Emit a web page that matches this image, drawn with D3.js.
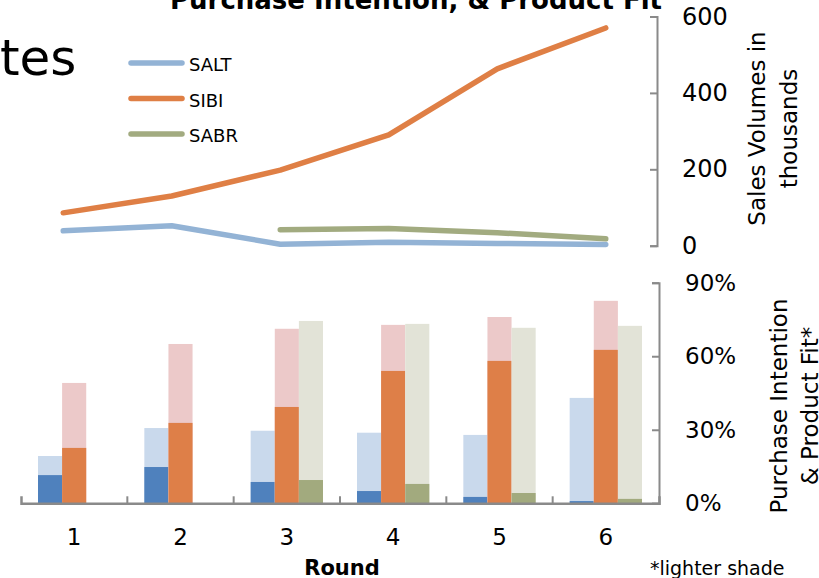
<!DOCTYPE html>
<html>
<head>
<meta charset="utf-8">
<script src="https://cdn.jsdelivr.net/npm/d3@7/dist/d3.min.js"></script>
<style>
  html, body { margin: 0; padding: 0; background: #fff; }
  svg { display: block; }
  text { font-family: "DejaVu Sans", "Open Sans", sans-serif; fill: #000; }
</style>
</head>
<body>
<svg id="chart" width="819" height="578"></svg>
<script>
// Rounds of the simulation
const rounds = ["1", "2", "3", "4", "5", "6"];

// Sales volumes (thousands) per brand
const saltSales = [39, 52, 4, 9, 6, 3];
const sibiSales = [86, 130, 198, 290, 463, 570];
const sabrSales = [null, null, 42, 45, 34, 18];

// Purchase intention (dark) and product fit (light), in percent
const saltIntent = [11.5, 14.8, 8.7, 5.0, 2.6, 0.9];
const saltFit    = [19.3, 30.7, 29.6, 28.8, 27.9, 43.0];
const sibiIntent = [22.6, 32.8, 39.3, 54.0, 58.1, 62.6];
const sibiFit    = [49.1, 65.0, 71.2, 72.8, 76.0, 82.6];
const sabrIntent = [null, null, 9.5, 7.9, 4.2, 1.8];
const sabrFit    = [null, null, 74.4, 73.2, 71.6, 72.4];

const salesTicks = [0, 200, 400, 600];
const pctTicks = [0, 30, 60, 90];

const brands = ["SALT", "SIBI", "SABR"];
const lineColor = { SALT: "#93b3d5", SIBI: "#df7f45", SABR: "#a2ab80" };
const darkColor = { SALT: "#4f81bd", SIBI: "#de7f48", SABR: "#a2aa7e" };
const lightColor = { SALT: "#c9d9ec", SIBI: "#ecc9c9", SABR: "#e2e3d7" };
const axisGray = "#8a8a8a";

const salesByBrand = { SALT: saltSales, SIBI: sibiSales, SABR: sabrSales };
const intentByBrand = { SALT: saltIntent, SIBI: sibiIntent, SABR: sabrIntent };
const fitByBrand = { SALT: saltFit, SIBI: sibiFit, SABR: sabrFit };

const svg = d3.select("#chart");

// Slide heading fragment and chart title (partly off the top edge)
svg.append("text").attr("x", 0).attr("y", 75)
  .style("font-size", "50px").text("tes");
svg.append("text").attr("x", 170).attr("y", 9)
  .style("font-size", "26px").style("font-weight", "bold")
  .text("Purchase Intention, & Product Fit");

// ---------- Top panel: sales volume lines ----------
const xTop = d3.scalePoint().domain(rounds).range([9, 660]).padding(0.5);
const yTop = d3.scaleLinear().domain([0, 600]).range([245.7, 16.5]);

const line = d3.line()
  .defined(d => d.v != null)
  .x(d => xTop(d.r))
  .y(d => yTop(d.v));

brands.forEach(b => {
  const pts = rounds.map((r, i) => ({ r, v: salesByBrand[b][i] }));
  svg.append("path")
    .datum(pts)
    .attr("d", line)
    .attr("fill", "none")
    .attr("stroke", lineColor[b])
    .attr("stroke-width", 5.5)
    .attr("stroke-linecap", "round")
    .attr("stroke-linejoin", "round");
});

const topAxis = svg.append("g")
  .attr("transform", "translate(657,0)")
  .call(d3.axisRight(yTop).tickValues(salesTicks)
    .tickSizeInner(-7).tickSizeOuter(-7).tickPadding(25));
topAxis.selectAll("path, line").attr("stroke", axisGray).attr("stroke-width", 2);
topAxis.selectAll("text").style("font-size", "24px").style("font-family", null);

// Legend
const legend = svg.append("g");
brands.forEach((b, i) => {
  const y = 63 + i * 35.5;
  legend.append("line").attr("x1", 131).attr("x2", 182).attr("y1", y).attr("y2", y)
    .attr("stroke", lineColor[b]).attr("stroke-width", 5.5).attr("stroke-linecap", "round");
  legend.append("text").attr("x", 189).attr("y", y + 8)
    .style("font-size", "18px").text(b);
});

// Top axis title
const t1 = svg.append("text")
  .attr("transform", "translate(765,128.5) rotate(-90)")
  .attr("text-anchor", "middle").style("font-size", "23px");
t1.append("tspan").attr("x", 0).attr("dy", 0).text("Sales Volumes in");
t1.append("tspan").attr("x", 0).attr("dy", 32).text("thousands");

// ---------- Bottom panel: intention / fit bars ----------
const xBot = d3.scaleBand().domain(rounds).range([21, 659]);
const xSub = d3.scaleBand().domain(brands).range([17, xBot.bandwidth() - 17]);
const yBot = d3.scaleLinear().domain([0, 90]).range([503.3, 282.7]);

const groups = svg.append("g").selectAll("g")
  .data(rounds).join("g")
  .attr("transform", r => `translate(${xBot(r)},0)`);

brands.forEach(b => {
  // lighter shade: product fit
  groups.filter((r, i) => fitByBrand[b][i] != null)
    .append("rect")
    .attr("x", xSub(b)).attr("width", xSub.bandwidth())
    .attr("y", r => yBot(fitByBrand[b][rounds.indexOf(r)]))
    .attr("height", r => yBot(0) - yBot(fitByBrand[b][rounds.indexOf(r)]))
    .attr("fill", lightColor[b]);
  // darker shade: purchase intention
  groups.filter((r, i) => intentByBrand[b][i] != null)
    .append("rect")
    .attr("x", xSub(b)).attr("width", xSub.bandwidth())
    .attr("y", r => yBot(intentByBrand[b][rounds.indexOf(r)]))
    .attr("height", r => yBot(0) - yBot(intentByBrand[b][rounds.indexOf(r)]))
    .attr("fill", darkColor[b]);
});

const botAxis = svg.append("g")
  .attr("transform", "translate(659,0)")
  .call(d3.axisRight(yBot).tickValues(pctTicks)
    .tickFormat(d => d + "%")
    .tickSizeInner(-7).tickSizeOuter(-7).tickPadding(26));
botAxis.selectAll("path, line").attr("stroke", axisGray).attr("stroke-width", 2);
botAxis.selectAll("text").style("font-size", "23px").style("font-family", null);

const xAxis = svg.append("g")
  .attr("transform", `translate(0,${yBot(0)})`)
  .call(d3.axisBottom(xBot).tickSizeInner(0).tickSizeOuter(-7).tickPadding(25));
xAxis.select("path").attr("stroke", axisGray).attr("stroke-width", 2.5);
xAxis.selectAll("text").style("font-size", "23px").style("font-family", null);
// category boundary ticks
xAxis.selectAll("line.sep")
  .data(rounds.slice(1)).join("line")
  .attr("class", "sep")
  .attr("x1", r => xBot(r)).attr("x2", r => xBot(r))
  .attr("y1", 0).attr("y2", -7)
  .attr("stroke", axisGray).attr("stroke-width", 2);

// Bottom axis title
const t2 = svg.append("text")
  .attr("transform", "translate(787,406) rotate(-90)")
  .attr("text-anchor", "middle").style("font-size", "23px");
t2.append("tspan").attr("x", 0).attr("dy", 0).text("Purchase Intention");
t2.append("tspan").attr("x", 0).attr("dy", 31).text("& Product Fit*");

svg.append("text").attr("x", 342).attr("y", 575).attr("text-anchor", "middle")
  .style("font-size", "21px").style("font-weight", "bold").text("Round");
svg.append("text").attr("x", 650).attr("y", 575)
  .style("font-size", "19px").text("*lighter shade");
</script>
</body>
</html>
